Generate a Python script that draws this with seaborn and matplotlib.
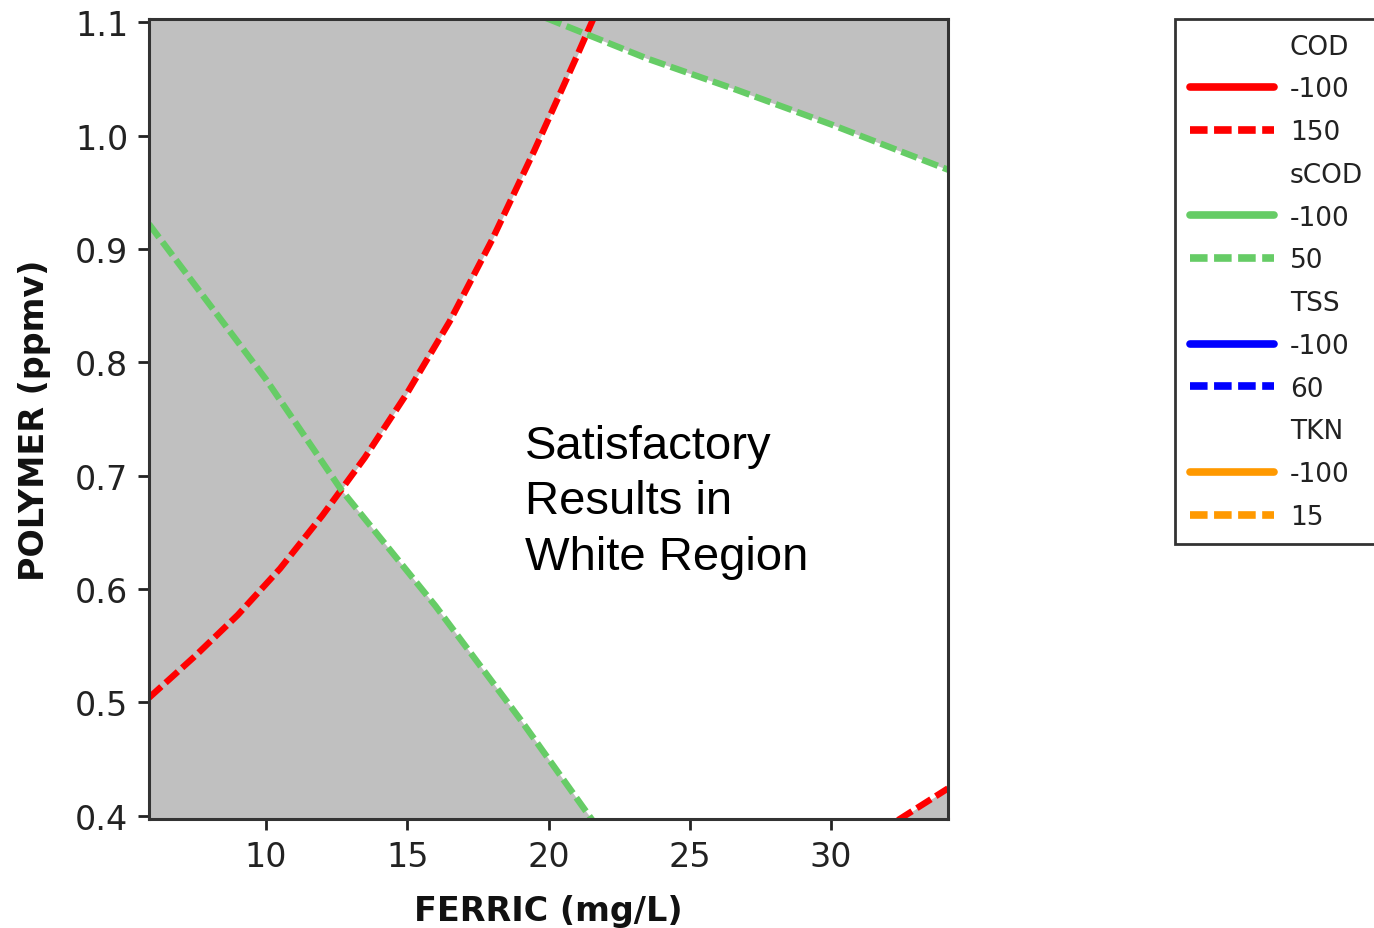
import numpy as np
import matplotlib
matplotlib.use("Agg")
import matplotlib.pyplot as plt
from matplotlib.lines import Line2D
import seaborn as sns

# ---------------- data ----------------
xlim = (5.86, 34.14)
ylim = (0.397, 1.103)
xticks = [10, 15, 20, 25, 30]
yticks = [0.4, 0.5, 0.6, 0.7, 0.8, 0.9, 1.0, 1.1]

# COD = 150 contour (left, curved)
cod150_x = [5.86, 7.5, 9.0, 10.5, 12.0, 13.5, 15.0, 16.5, 18.0, 19.5, 21.0, 21.6]
cod150_y = [0.504, 0.541, 0.577, 0.618, 0.665, 0.716, 0.773, 0.836, 0.908, 0.987, 1.070, 1.104]
# COD = 150 contour (bottom-right corner)
cod150b_x = [32.37, 34.14]
cod150b_y = [0.396, 0.424]
# sCOD = 50 contour (left, descending)
scod50_x = [5.86, 10.0, 12.65, 16.0, 19.0, 21.55]
scod50_y = [0.922, 0.785, 0.688, 0.585, 0.485, 0.396]
# sCOD = 50 contour (top right)
scod50t_x = [19.9, 21.3, 23.5, 26.6, 30.0, 34.14]
scod50t_y = [1.104, 1.090, 1.068, 1.041, 1.010, 0.970]

legend_groups = ["COD", "sCOD", "TSS", "TKN"]
legend_low = ["-100", "-100", "-100", "-100"]
legend_high = ["150", "50", "60", "15"]
legend_colors = ["#FF0000", "#66CC66", "#0000FF", "#FF9900"]

GRAY = "#C0C0C0"
DASH = (0, (2.6, 0.9))
LW = 4.6

sns.set_theme(style="ticks")
plt.rcParams["font.family"] = ["DejaVu Sans"]

fig = plt.figure(figsize=(13.74, 9.29), dpi=100)
ax = fig.add_axes([149 / 1374, 1 - 820 / 929, (948 - 149) / 1374, (820 - 20) / 929])
ax.set_facecolor(GRAY)

# ---------------- white (satisfactory) region from the contours ----------------
xs = np.linspace(xlim[0], xlim[1], 3000)
inf = 1e9
red_up = np.where(xs <= cod150_x[-1], np.interp(xs, cod150_x, cod150_y), inf)
green_up = np.where(xs >= scod50t_x[0], np.interp(xs, scod50t_x, scod50t_y), inf)
upper = np.minimum(np.minimum(red_up, green_up), ylim[1])
green_lo = np.where(xs <= scod50_x[-1], np.interp(xs, scod50_x, scod50_y), -inf)
red_lo = np.where(xs >= cod150b_x[0], np.interp(xs, cod150b_x, cod150b_y), -inf)
lower = np.maximum(np.maximum(green_lo, red_lo), ylim[0])
ax.fill_between(xs, lower, upper, where=upper > lower, color="white",
                interpolate=True, linewidth=0, zorder=1)

# ---------------- contour lines ----------------
for lx, ly, c in [(cod150_x, cod150_y, legend_colors[0]),
                  (cod150b_x, cod150b_y, legend_colors[0]),
                  (scod50_x, scod50_y, legend_colors[1]),
                  (scod50t_x, scod50t_y, legend_colors[1])]:
    sns.lineplot(x=lx, y=ly, ax=ax, color=c, linewidth=LW, linestyle=DASH,
                 sort=False, estimator=None, zorder=3)

ax.set_xlim(*xlim)
ax.set_ylim(*ylim)
ax.set_xticks(xticks)
ax.set_xticklabels([str(t) for t in xticks])
ax.set_yticks(yticks)
ax.set_yticklabels([f"{t:.1f}" for t in yticks])
ax.tick_params(axis="both", labelsize=24, colors="#222222", length=8, width=2, pad=7,
               direction="out")
for s in ax.spines.values():
    s.set_color("#333333")
    s.set_linewidth(2.2)
    s.set_visible(True)
    s.set_zorder(5)

ax.set_xlabel("FERRIC (mg/L)", fontsize=24, fontweight="bold", color="#111111", labelpad=15)
ax.set_ylabel("POLYMER (ppmv)", fontsize=24, fontweight="bold", color="#111111", labelpad=17)

ax.text(0.4706, 0.397, "Satisfactory\nResults in\nWhite Region", transform=ax.transAxes,
        ha="left", va="center", fontsize=34, family=["Liberation Sans", "DejaVu Sans"],
        linespacing=1.34, color="black", zorder=6)

# ---------------- legend ----------------
handles, labels = [], []
for g, lo, hi, c in zip(legend_groups, legend_low, legend_high, legend_colors):
    handles.append(Line2D([], [], color="none"))
    labels.append(g)
    handles.append(Line2D([], [], color=c, linewidth=5.5))
    labels.append(lo)
    handles.append(Line2D([], [], color=c, linewidth=5.5, linestyle=(0, (2.3, 0.85))))
    labels.append(hi)

leg = fig.legend(handles, labels, loc="upper left",
                 bbox_to_anchor=(1175 / 1374, 1 - 20 / 929), fontsize=19,
                 handlelength=3.2, handletextpad=0.6, borderpad=0.55,
                 labelspacing=0.635, borderaxespad=0, frameon=True, fancybox=False,
                 edgecolor="#333333", framealpha=1)
leg.get_frame().set_linewidth(2)
for t in leg.get_texts():
    t.set_color("#222222")

fig.savefig("out.png", dpi=100, facecolor="white")
